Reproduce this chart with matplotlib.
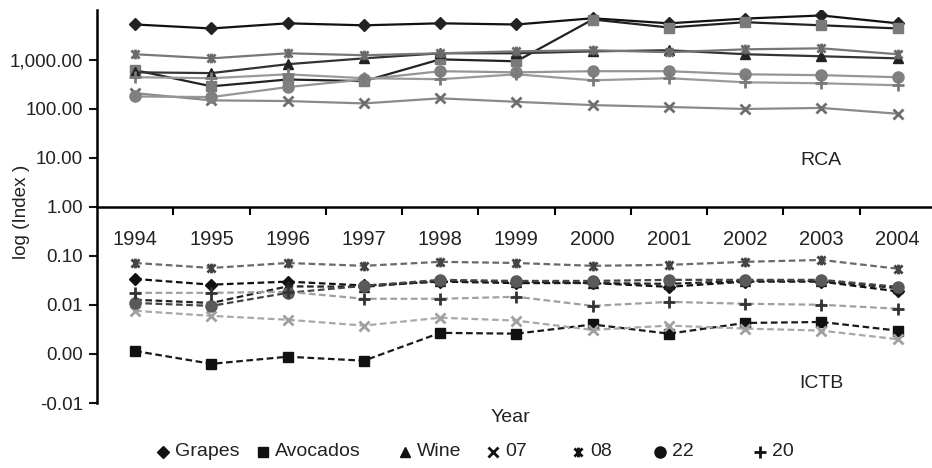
import matplotlib
matplotlib.use("Agg")
import matplotlib.pyplot as plt
from matplotlib.lines import Line2D
from matplotlib.path import Path
import numpy as np

plt.rcParams['font.family'] = ['Liberation Sans', 'DejaVu Sans']

years = [1994, 1995, 1996, 1997, 1998, 1999, 2000, 2001, 2002, 2003, 2004]
series_names = ["Grapes", "Avocados", "Wine", "07", "08", "22", "20"]

# revealed comparative advantage (upper block, solid lines)
rca_grapes = [5300, 4400, 5600, 5100, 5600, 5300, 7100, 5600, 7000, 8100, 5600]
rca_avocados = [620, 290, 400, 370, 1030, 940, 6700, 4600, 5900, 5100, 4400]
rca_wine = [560, 540, 820, 1080, 1370, 1370, 1500, 1580, 1310, 1190, 1080]
rca_07 = [210, 150, 145, 130, 165, 140, 120, 110, 100, 105, 80]
rca_08 = [1310, 1080, 1370, 1250, 1370, 1500, 1580, 1440, 1650, 1730, 1310]
rca_22 = [180, 175, 280, 400, 590, 560, 590, 590, 510, 490, 445]
rca_20 = [445, 425, 510, 425, 405, 510, 385, 425, 350, 335, 305]

# intra-industry trade balance (lower block, dashed lines)
ictb_grapes = [0.034, 0.026, 0.030, 0.025, 0.030, 0.028, 0.028, 0.0235, 0.030, 0.030, 0.019]
ictb_avocados = [0.00115, 0.00063, 0.00088, 0.00073, 0.0027, 0.0026, 0.0040, 0.0026, 0.0043, 0.0045, 0.0030]
ictb_wine = [0.0128, 0.011, 0.024, 0.0235, 0.031, 0.030, 0.028, 0.027, 0.031, 0.031, 0.022]
ictb_07 = [0.0076, 0.0060, 0.0050, 0.0038, 0.0055, 0.0048, 0.0031, 0.0038, 0.0033, 0.0030, 0.0020]
ictb_08 = [0.072, 0.057, 0.072, 0.063, 0.076, 0.072, 0.063, 0.066, 0.076, 0.083, 0.055]
ictb_22 = [0.011, 0.0096, 0.0177, 0.0246, 0.0326, 0.031, 0.031, 0.0326, 0.0326, 0.0326, 0.0235]
ictb_20 = [0.0177, 0.0177, 0.0186, 0.0134, 0.0134, 0.0147, 0.0096, 0.0116, 0.0106, 0.0101, 0.0084]

ytick_vals = [1e-4, 1e-3, 1e-2, 1e-1, 1, 10, 100, 1000]
ytick_labels = ["-0.01", "0.00", "0.01", "0.10", "1.00", "10.00", "100.00", "1,000.00"]

# asterisk marker used for series 08
star = Path([(-1, -1), (1, 1), (-1, 1), (1, -1), (0, -1.2), (0, 1.2)],
            [Path.MOVETO, Path.LINETO] * 3)

markers = {"Grapes": "D", "Avocados": "s", "Wine": "^", "07": "x",
           "08": star, "22": "o", "20": "+"}
msize = {"Grapes": 6, "Avocados": 7, "Wine": 7, "07": 7, "08": 7, "22": 8, "20": 8}

# (line colour, marker colour)
rca_style = {"Grapes": ("#111111", "#222222"), "Avocados": ("#222222", "#7a7a7a"),
             "Wine": ("#333333", "#222222"), "07": ("#8a8a8a", "#6e6e6e"),
             "08": ("#777777", "#6a6a6a"), "22": ("#959595", "#808080"),
             "20": ("#9a9a9a", "#7a7a7a")}
ictb_style = {"Grapes": ("#111111", "#111111"), "Avocados": ("#1a1a1a", "#111111"),
              "Wine": ("#222222", "#222222"), "07": ("#a8a8a8", "#a0a0a0"),
              "08": ("#6a6a6a", "#444444"), "22": ("#444444", "#5a5a5a"),
              "20": ("#a0a0a0", "#333333")}

rca = dict(zip(series_names, [rca_grapes, rca_avocados, rca_wine, rca_07, rca_08, rca_22, rca_20]))
ictb = dict(zip(series_names, [ictb_grapes, ictb_avocados, ictb_wine, ictb_07, ictb_08, ictb_22, ictb_20]))


def thick(name):
    return 2 if name in ("07", "08", "20") else 1


fig = plt.figure(figsize=(9.32, 4.68), dpi=100)
ax = fig.add_axes([97 / 932, 65 / 468, 1 - 97 / 932, 393 / 468])
x = np.arange(len(years))

for name in series_names:
    lc, mc = rca_style[name]
    ax.plot(x, rca[name], color=lc, lw=1.6, marker=markers[name], ms=msize[name],
            mfc=mc, mec=mc, mew=thick(name))
    lc, mc = ictb_style[name]
    ax.plot(x, ictb[name], color=lc, lw=1.6, dashes=(3, 1.6), marker=markers[name],
            ms=msize[name], mfc=mc, mec=mc, mew=thick(name))

ax.set_yscale("log")
ax.set_ylim(1e-4, 10 ** 4.02)
ax.set_xlim(-0.5, 10.45)
ax.yaxis.set_major_locator(plt.FixedLocator(ytick_vals))
ax.yaxis.set_minor_locator(plt.NullLocator())
ax.set_yticklabels(ytick_labels)
ax.tick_params(axis="y", direction="out", length=6, width=1.5, labelsize=13.6,
               colors="#111111", labelcolor="#222222", pad=4)

# category axis crosses at 1.00, ticks on the category boundaries
for side in ("top", "right"):
    ax.spines[side].set_visible(False)
ax.spines["bottom"].set_position(("data", 1))
ax.spines["bottom"].set_linewidth(1.8)
ax.spines["left"].set_linewidth(1.8)
ax.set_xticks(x[:-1] + 0.5)
ax.set_xticklabels([])
ax.tick_params(axis="x", direction="out", length=6, width=1.5)
for xi, yr in zip(x, years):
    ax.text(xi, 10 ** -0.67, str(yr), ha="center", va="center", fontsize=14.5, color="#222222")

ax.text(9.0, 10 ** 0.95, "RCA", ha="center", va="center", fontsize=14, color="#222222")
ax.text(9.0, 10 ** -3.6, "ICTB", ha="center", va="center", fontsize=14, color="#222222")
fig.text(510 / 932, 1 - 418 / 468, "Year", ha="center", va="center", fontsize=14, color="#222222")
fig.text(22 / 932, 1 - 212 / 468, "log (Index )", ha="center", va="center", rotation=90,
         fontsize=13.6, color="#222222")

# legend row: marker then label, at fixed horizontal slots
legend_x = [163, 263, 405, 493, 578, 660, 760]
legend_y = 1 - 452 / 468
for name, px in zip(series_names, legend_x):
    fig.add_artist(Line2D([px / 932], [legend_y], ls="none", marker=markers[name],
                          color="#111111", ms=msize[name], mew=thick(name),
                          transform=fig.transFigure))
    fig.text((px + 12) / 932, legend_y, name, ha="left", va="center",
             fontsize=14, color="#222222")

fig.savefig("out.png", dpi=100)
